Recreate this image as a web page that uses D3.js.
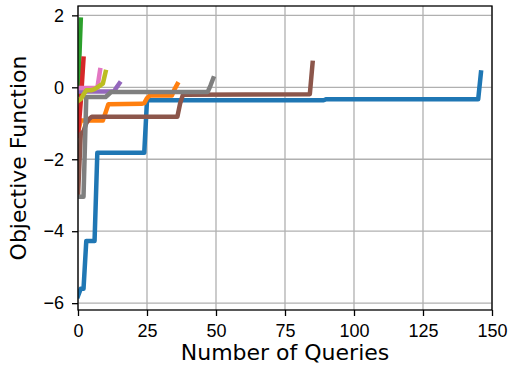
<!DOCTYPE html>
<html>
<head>
<meta charset="utf-8">
<script src="https://cdn.jsdelivr.net/npm/d3@7"></script>
<style>
  body { margin: 0; background: #fff; }
  svg { display: block; font-family: "DejaVu Sans", sans-serif; }
  .axis text { font-size: 18px; fill: #000; }
  .axis path, .axis line { stroke: #000; stroke-width: 1.3px; }
  .grid line { stroke: #b0b0b0; stroke-width: 1.3px; }
  .run { fill: none; stroke-width: 4.5px; stroke-linejoin: round; stroke-linecap: square; }
</style>
</head>
<body>
<div id="chart"></div>
<script>
// best objective value seen so far, as [query, value] points
const blueRun = [[0, -5.8], [1, -5.6], [2, -5.6], [3, -4.27], [6, -4.27], [7, -1.82], [24, -1.82],
  [25, -0.36], [89, -0.36], [90, -0.33], [145, -0.33], [146, 0.41]];
const orangeRun = [[0, -1.25], [1, -0.92], [9, -0.92], [10, -0.7], [11, -0.47], [23, -0.46], [24, -0.44],
  [25, -0.3], [26, -0.23], [34, -0.23], [35, -0.05], [36, 0.09]];
const greenRun = [[0, -0.2], [1, 1.88]];
const redRun = [[0, -1.35], [1, -0.4], [2, 0.8]];
const purpleRun = [[0, -0.12], [13, -0.12], [14, 0.0], [15, 0.11]];
const brownRun = [[0, -3.0], [1, -1.3], [2, -1.22], [3, -1.0], [4, -0.88], [5, -0.82], [36, -0.82],
  [37, -0.45], [38, -0.21], [84, -0.19], [85, 0.68]];
const pinkRun = [[0, -0.02], [7, -0.02], [8, 0.48]];
const grayRun = [[0, -3.04], [2, -3.04], [3, -0.27], [10, -0.27], [11, -0.2], [12, -0.13], [47, -0.13],
  [48, 0.05], [49, 0.25]];
const oliveRun = [[0, -0.38], [1, -0.33], [2, -0.2], [3, -0.08], [5, -0.08], [6, -0.05], [7, 0.0],
  [8, 0.05], [9, 0.1], [10, 0.43]];

const runs = [blueRun, orangeRun, greenRun, redRun, purpleRun, brownRun, pinkRun, grayRun, oliveRun];
const runColors = ['#1f77b4', '#ff7f0e', '#2ca02c', '#d62728', '#9467bd', '#8c564b', '#e377c2', '#7f7f7f', '#bcbd22'];

const xTicks = [0, 25, 50, 75, 100, 125, 150];
const yTicks = [-6, -4, -2, 0, 2];

const width = 511;
const height = 366;
const margin = {top: 6, right: 19, bottom: 56, left: 78};
const plotW = width - margin.left - margin.right;
const plotH = height - margin.top - margin.bottom;

const svg = d3.select('#chart')
  .append('svg')
  .attr('width', width)
  .attr('height', height);

const x = d3.scaleLinear().domain([0, 150]).range([margin.left, margin.left + plotW]);
const y = d3.scaleLinear().domain([-6.19, 2.26]).range([margin.top + plotH, margin.top]);

// grid first, under everything
const grid = svg.append('g').attr('class', 'grid');
grid.selectAll('.gx')
  .data(xTicks)
  .enter()
  .append('line')
  .attr('x1', d => x(d)).attr('x2', d => x(d))
  .attr('y1', margin.top).attr('y2', margin.top + plotH);
grid.selectAll('.gy')
  .data(yTicks)
  .enter()
  .append('line')
  .attr('x1', margin.left).attr('x2', margin.left + plotW)
  .attr('y1', d => y(d)).attr('y2', d => y(d));

svg.append('clipPath')
  .attr('id', 'plot-clip')
  .append('rect')
  .attr('x', margin.left)
  .attr('y', margin.top)
  .attr('width', plotW)
  .attr('height', plotH);

const line = d3.line()
  .x(d => x(d[0]))
  .y(d => y(d[1]));

svg.append('g')
  .attr('clip-path', 'url(#plot-clip)')
  .selectAll('path')
  .data(runs)
  .enter()
  .append('path')
  .attr('class', 'run')
  .attr('d', line)
  .style('stroke', (d, i) => runColors[i]);

// frame
svg.append('rect')
  .attr('x', margin.left)
  .attr('y', margin.top)
  .attr('width', plotW)
  .attr('height', plotH)
  .attr('fill', 'none')
  .attr('stroke', '#000')
  .attr('stroke-width', 1.3);

svg.append('g')
  .attr('class', 'axis')
  .attr('transform', 'translate(0,' + (margin.top + plotH) + ')')
  .call(d3.axisBottom(x).tickValues(xTicks).tickSize(6).tickSizeOuter(0).tickPadding(8))
  .call(g => g.select('.domain').remove());

svg.append('g')
  .attr('class', 'axis')
  .attr('transform', 'translate(' + margin.left + ',0)')
  .call(d3.axisLeft(y).tickValues(yTicks).tickSize(6).tickSizeOuter(0).tickPadding(8))
  .call(g => g.select('.domain').remove());

svg.append('text')
  .attr('x', margin.left + plotW / 2)
  .attr('y', 360)
  .attr('text-anchor', 'middle')
  .style('font-size', '22px')
  .text('Number of Queries');

svg.append('text')
  .attr('transform', 'translate(26,' + (margin.top + plotH / 2) + ') rotate(-90)')
  .attr('text-anchor', 'middle')
  .style('font-size', '22px')
  .text('Objective Function');
</script>
</body>
</html>
